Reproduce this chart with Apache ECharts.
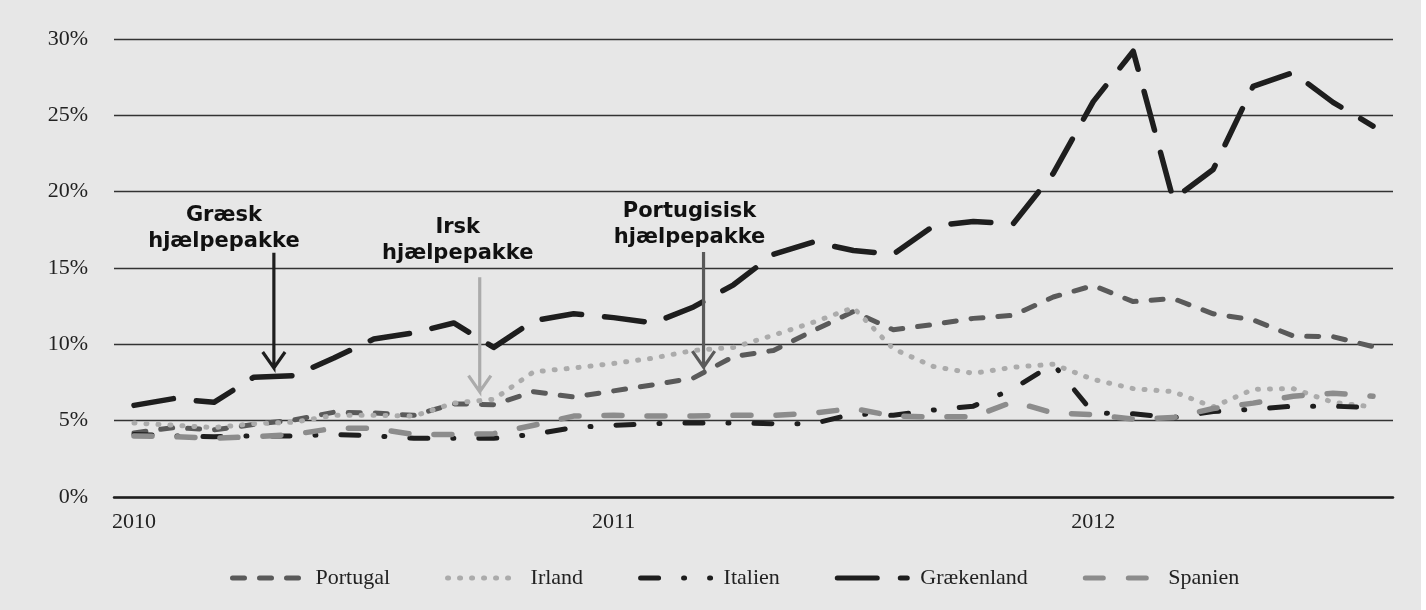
<!DOCTYPE html>
<html>
<head>
<meta charset="utf-8">
<script src="https://cdn.jsdelivr.net/npm/echarts@6/dist/echarts.min.js"></script>
<style>
  html, body { margin: 0; padding: 0; background: #ffffff; }
  #chart { width: 1426px; height: 610px; }
</style>
</head>
<body>
<div id="chart"></div>
<script>
// Monthly 10-year government bond yields (%), January 2010 – August 2012
const months = [
  '2010-01','2010-02','2010-03','2010-04','2010-05','2010-06','2010-07','2010-08','2010-09','2010-10','2010-11','2010-12',
  '2011-01','2011-02','2011-03','2011-04','2011-05','2011-06','2011-07','2011-08','2011-09','2011-10','2011-11','2011-12',
  '2012-01','2012-02','2012-03','2012-04','2012-05','2012-06','2012-07','2012-08'
];

const portugal = [4.2, 4.55, 4.4, 4.75, 5.05, 5.55, 5.5, 5.35, 6.1, 6.05, 6.9, 6.55,
                  6.95, 7.35, 7.8, 9.2, 9.6, 10.9, 12.15, 10.95, 11.3, 11.7, 11.9, 13.1,
                  13.85, 12.8, 13.0, 12.0, 11.6, 10.55, 10.5, 9.85];
const irland = [4.85, 4.7, 4.55, 4.8, 4.9, 5.35, 5.35, 5.3, 6.15, 6.4, 8.2, 8.45,
                8.75, 9.1, 9.6, 9.8, 10.6, 11.45, 12.4, 9.7, 8.55, 8.1, 8.5, 8.7,
                7.7, 7.1, 6.9, 5.9, 7.05, 7.1, 6.2, 5.9];
const italien = [4.1, 4.0, 3.95, 4.0, 4.0, 4.1, 4.0, 3.85, 3.85, 3.85, 4.1, 4.55,
                 4.7, 4.8, 4.85, 4.85, 4.8, 4.8, 5.45, 5.35, 5.7, 5.95, 7.1, 8.7,
                 5.5, 5.45, 5.2, 5.6, 5.75, 5.95, 5.95, 5.85];
const graekenland = [6.0, 6.45, 6.2, 7.85, 7.95, 9.1, 10.35, 10.75, 11.4, 9.8, 11.55, 12.0,
                     11.75, 11.4, 12.45, 13.9, 15.9, 16.7, 16.15, 15.9, 17.75, 18.05, 17.9, 21.2,
                     25.9, 29.2, 19.5, 21.45, 26.9, 27.8, 25.85, 24.3];
const spanien = [4.0, 3.95, 3.85, 3.95, 4.1, 4.5, 4.5, 4.1, 4.1, 4.15, 4.7, 5.3,
                 5.35, 5.3, 5.3, 5.35, 5.35, 5.5, 5.8, 5.3, 5.25, 5.25, 6.25, 5.5,
                 5.4, 5.1, 5.2, 5.8, 6.15, 6.6, 6.8, 6.6];

// Rescue package annotations (position in months from Jan 2010, yield %)
const packageNames = ['Græsk\nhjælpepakke', 'Irsk\nhjælpepakke', 'Portugisisk\nhjælpepakke'];
const packageMonth = [3.5, 8.65, 14.25];
const arrowTop = [16.0, 14.4, 16.05];
const arrowTip = [8.45, 6.9, 8.5];
const packageLabelPos = [[2.25, 17.6], [8.1, 16.8], [13.9, 17.85]];
const arrowColors = ['#1e1e1e', '#ababab', '#5a5a5a'];

const SERIF = 'Liberation Serif, Times New Roman, serif';
const TEXT = '#222222';

function lineSeries(name, data, color, width, dash) {
  return {
    name: name,
    type: 'line',
    data: data,
    symbol: 'none',
    smooth: false,
    silent: true,
    lineStyle: { color: color, width: width, type: dash, cap: 'round', join: 'round' },
    itemStyle: { color: color },
    z: 3
  };
}

// Arrow shaft plus an open arrowhead, drawn on the hidden month-value axis
function arrowSeries(i) {
  const x = packageMonth[i], top = arrowTop[i], tip = arrowTip[i];
  const hw = 0.28, hh = 1.05;
  return {
    type: 'line',
    xAxisIndex: 1,
    data: [[x, top], [x, tip], [x - hw, tip + hh], [x, tip], [x + hw, tip + hh]],
    symbol: 'none',
    silent: true,
    lineStyle: { color: arrowColors[i], width: 3.2, cap: 'butt', join: 'miter' },
    z: 6
  };
}

const chart = echarts.init(document.getElementById('chart'), null, { renderer: 'canvas' });

const option = {
  animation: false,
  backgroundColor: '#e7e7e7',
  grid: { left: 114, right: 33, top: 39, bottom: 113, containLabel: false },
  xAxis: [
    {
      type: 'category',
      data: months,
      boundaryGap: true,
      axisLine: { show: true, lineStyle: { color: '#1e1e1e', width: 2.5 } },
      axisTick: { show: false },
      axisLabel: {
        interval: function (index) { return index % 12 === 0; },
        formatter: function (v) { return v.slice(0, 4); },
        fontFamily: SERIF, fontSize: 22, color: TEXT, margin: 14
      },
      splitLine: { show: false }
    },
    {
      type: 'value',
      min: -0.5,
      max: 31.5,
      show: false,
      splitLine: { show: false }
    }
  ],
  yAxis: {
    type: 'value',
    min: 0,
    max: 30,
    interval: 5,
    axisLine: { show: false },
    axisTick: { show: false },
    axisLabel: {
      formatter: '{value}%',
      fontFamily: SERIF, fontSize: 22, color: TEXT, margin: 26
    },
    splitLine: { show: true, lineStyle: { color: '#333333', width: 1.3 } }
  },
  legend: {
    data: ['Portugal', 'Irland', 'Italien', 'Grækenland', 'Spanien'],
    left: 225,
    top: 562,
    itemWidth: 70,
    itemHeight: 14,
    itemGap: 55,
    selectedMode: false,
    lineStyle: { width: 5 },
    // line-only legend keys, no marker in the middle
    itemStyle: { color: 'rgba(0,0,0,0)', borderColor: 'rgba(0,0,0,0)', borderWidth: 0 },
    textStyle: { fontFamily: SERIF, fontSize: 22, color: TEXT, padding: [0, 0, 0, 8] }
  },
  graphic: [
    { type: 'rect', right: 0, top: 0, shape: { width: 5, height: 610 }, style: { fill: '#ffffff' }, silent: true }
  ],
  series: [
    lineSeries('Portugal', portugal, '#5a5a5a', 5, [12, 15]),
    lineSeries('Irland', irland, '#ababab', 5, [1, 11]),
    lineSeries('Italien', italien, '#1e1e1e', 5, [18, 25, 1, 25]),
    lineSeries('Grækenland', graekenland, '#1e1e1e', 5.5, [40, 23]),
    lineSeries('Spanien', spanien, '#8c8c8c', 5.5, [18, 25]),
    arrowSeries(0),
    arrowSeries(1),
    arrowSeries(2),
    {
      type: 'scatter',
      xAxisIndex: 1,
      silent: true,
      symbolSize: 1,
      itemStyle: { color: 'rgba(0,0,0,0)' },
      data: packageLabelPos.map(function (p, i) { return { value: p, name: packageNames[i] }; }),
      label: {
        show: true,
        position: 'inside',
        formatter: '{b}',
        fontFamily: 'DejaVu Sans, Verdana, sans-serif',
        fontWeight: 'bold',
        fontSize: 21,
        lineHeight: 26,
        color: '#111111',
        opacity: 1,
        textBorderWidth: 0,
        align: 'center',
        verticalAlign: 'middle'
      },
      z: 7
    }
  ]
};

chart.setOption(option);
</script>
</body>
</html>
